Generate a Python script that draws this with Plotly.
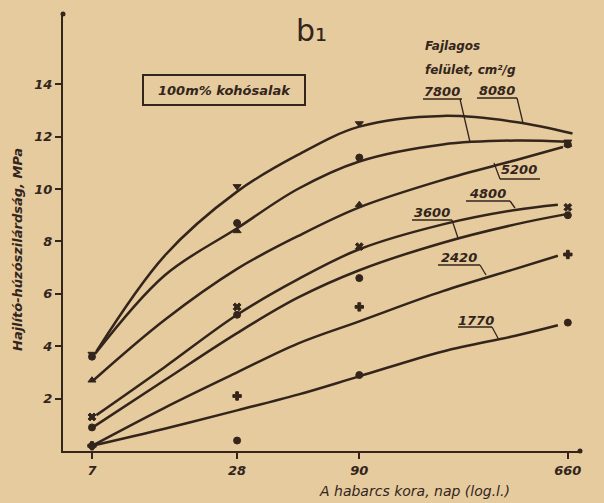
import plotly.graph_objects as go

# ---------------- data ----------------
ages = [7, 28, 90, 660]

# measured points, MPa
pts_8080 = [3.7, 10.1, 12.5, 11.8]
pts_7800 = [3.6, 8.7, 11.2, 11.7]
pts_5200 = [2.7, 8.4, 9.4, 11.7]
pts_4800 = [1.3, 5.5, 7.8, 9.3]
pts_3600 = [0.9, 5.2, 6.6, 9.0]
pts_2420 = [0.2, 2.1, 5.5, 7.5]
pts_1770 = [0.2, 0.4, 2.9, 4.9]

# hand-drawn fitted curves (age, MPa)
c8080_x = [7.3, 14, 28, 50, 90, 200, 400, 690]
c8080_y = [3.8, 7.45, 9.9, 11.3, 12.38, 12.79, 12.56, 12.12]
c7800_x = [7.2, 14, 28, 50, 90, 200, 400, 660]
c7800_y = [3.7, 6.7, 8.5, 10.0, 11.05, 11.7, 11.85, 11.8]
c5200_x = [7.1, 14, 28, 50, 90, 200, 400, 630]
c5200_y = [2.7, 5.0, 6.95, 8.2, 9.3, 10.35, 11.1, 11.6]
c4800_x = [7.3, 14, 28, 50, 90, 200, 400, 600]
c4800_y = [1.37, 3.2, 5.2, 6.55, 7.7, 8.65, 9.2, 9.4]
c3600_x = [7.1, 14, 28, 50, 90, 200, 400, 660]
c3600_y = [0.92, 2.7, 4.5, 5.85, 6.9, 7.95, 8.65, 9.05]
c2420_x = [7, 14, 28, 50, 90, 200, 400, 600]
c2420_y = [0.2, 1.65, 3.0, 4.1, 4.95, 6.1, 6.95, 7.45]
c1770_x = [7, 14, 28, 50, 90, 200, 400, 600]
c1770_y = [0.2, 0.85, 1.55, 2.15, 2.85, 3.8, 4.4, 4.8]

series_names = ["8080", "7800", "5200", "4800", "3600", "2420", "1770"]
x_ticks = [7, 28, 90, 660]
y_ticks = [2, 4, 6, 8, 10, 12, 14]

# ---------------- style ----------------
INK = "#33251b"
PAPER = "#e5cb9e"
FONT = "DejaVu Sans"

curves = [
    (c8080_x, c8080_y, pts_8080, "triangle-down"),
    (c7800_x, c7800_y, pts_7800, "circle"),
    (c5200_x, c5200_y, pts_5200, "triangle-up"),
    (c4800_x, c4800_y, pts_4800, "x"),
    (c3600_x, c3600_y, pts_3600, "circle"),
    (c2420_x, c2420_y, pts_2420, "cross"),
    (c1770_x, c1770_y, pts_1770, "circle"),
]

fig = go.Figure()
for name, (cx, cy, py, sym) in zip(series_names, curves):
    fig.add_trace(go.Scatter(x=cx, y=cy, mode="lines", line=dict(color=INK, width=2.5, shape="spline", smoothing=1.0),
                             name=name, showlegend=False, hoverinfo="skip"))
    fig.add_trace(go.Scatter(x=ages, y=py, mode="markers",
                             marker=dict(symbol=sym, size=7, color=INK, line=dict(color=INK, width=1)),
                             name=name, showlegend=False))

# ---------------- geometry helpers (pixel -> paper) ----------------
L, R, T, B = 63, 580, 14, 451
def px(x):
    return (x - L) / (R - L)
def py_(y):
    return (B - y) / (B - T)

shapes = []
annotations = []

def line(x0, y0, x1, y1, w=1.3):
    shapes.append(dict(type="line", xref="paper", yref="paper", x0=px(x0), y0=py_(y0), x1=px(x1), y1=py_(y1),
                       line=dict(color=INK, width=w)))

def text(x, y, s, size=13, xanchor="center", yanchor="middle", italic=True, bold=True, angle=0):
    annotations.append(dict(xref="paper", yref="paper", x=px(x), y=py_(y), text=s, showarrow=False,
                            xanchor=xanchor, yanchor=yanchor, textangle=angle,
                            font=dict(family=FONT, size=size, color=INK,
                                      style="italic" if italic else "normal",
                                      weight="bold" if bold else "normal")))

# curve labels: (text, centre x, y, underline x0, x1, underline y, leader end x, y, leader start x)
labels = [
    ("7800", 442, 91, 423, 462, 99, 470, 142, 460),
    ("8080", 497, 90, 477, 517, 98, 523, 123, 517),
    ("5200", 519, 170, 500, 540, 179, 494, 163, 500),
    ("4800", 487, 193, 466, 510, 201, 515, 208, 510),
    ("3600", 432, 212, 412, 452, 220, 458, 238, 452),
    ("2420", 459, 257, 438, 480, 265, 486, 275, 480),
    ("1770", 476, 320, 458, 492, 327, 499, 340, 492),
]
for s, tx, ty, u0, u1, uy, lx, ly, ls in labels:
    text(tx, ty, s, size=13)
    line(u0, uy, u1, uy, 1.4)
    line(ls, uy, lx, ly, 1.3)

text(423, 46, "Fajlagos", size=12, xanchor="left")
text(423, 70, "felület, cm²/g", size=12, xanchor="left")
text(311, 31, "b₁", size=30, italic=False, bold=False)

# boxed note
shapes.append(dict(type="rect", xref="paper", yref="paper", x0=px(143), x1=px(305), y0=py_(105), y1=py_(75),
                   line=dict(color=INK, width=2)))
text(224, 90, "100m% kohósalak", size=13)

# axis titles
text(17, 250, "Hajlító-húzószilárdság, MPa", size=13, angle=-90)
text(414, 491, "A habarcs kora, nap (log.l.)", size=14, bold=False)

# axis end dots
shapes.append(dict(type="circle", xref="paper", yref="paper", xsizemode="pixel", ysizemode="pixel",
                   xanchor=0, yanchor=1, x0=-2.5, x1=2.5, y0=-2.5, y1=2.5, fillcolor=INK, line=dict(color=INK, width=0)))
shapes.append(dict(type="circle", xref="paper", yref="paper", xsizemode="pixel", ysizemode="pixel",
                   xanchor=1, yanchor=0, x0=-2.5, x1=2.5, y0=-2.5, y1=2.5, fillcolor=INK, line=dict(color=INK, width=0)))

tickfont = dict(family=FONT, size=13, color=INK, style="italic", weight="bold")

fig.update_layout(
    width=604, height=503,
    margin=dict(l=L, r=604 - R, t=T, b=503 - B),
    paper_bgcolor=PAPER, plot_bgcolor=PAPER,
    shapes=shapes, annotations=annotations,
    xaxis=dict(type="log", range=[0.7248, 2.870], showgrid=False, zeroline=False,
               showline=True, linecolor=INK, linewidth=2.2,
               ticks="outside", ticklen=6, tickwidth=1.5, tickcolor=INK,
               tickvals=x_ticks, ticktext=[str(v) for v in x_ticks], tickfont=tickfont),
    yaxis=dict(range=[0, (B - T) / 26.2], showgrid=False, zeroline=False,
               showline=True, linecolor=INK, linewidth=2.2,
               ticks="outside", ticklen=6, tickwidth=1.5, tickcolor=INK,
               tickvals=y_ticks, ticktext=[str(v) for v in y_ticks], tickfont=tickfont),
)

fig.write_html("out.html")
